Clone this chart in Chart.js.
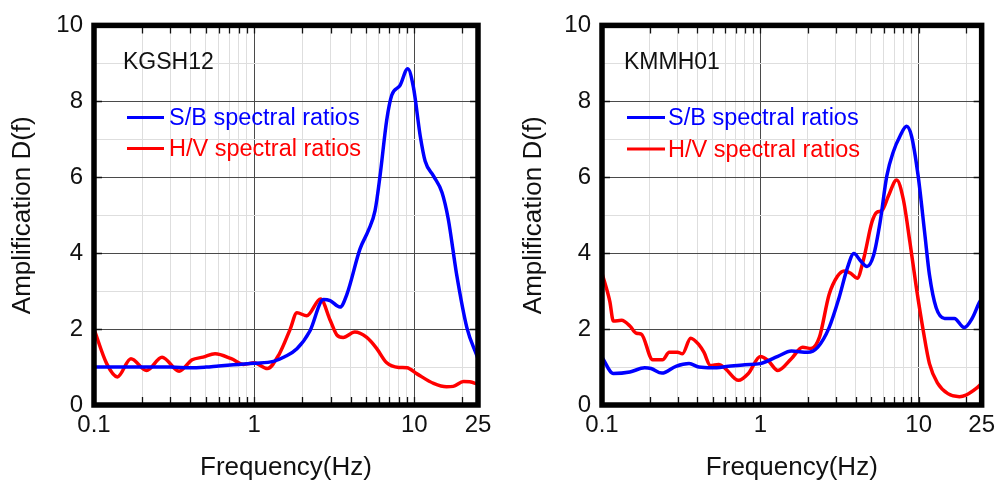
<!DOCTYPE html>
<html>
<head>
<meta charset="utf-8">
<script src="https://cdn.jsdelivr.net/npm/chart.js@4.4.1/dist/chart.umd.min.js"></script>
<style>
  html, body { margin: 0; padding: 0; background: #ffffff; }
  #wrap { position: relative; width: 1001px; height: 482px; overflow: hidden; background: #fff; }
  #wrap canvas { position: absolute; top: 0; }
</style>
</head>
<body>
<div id="wrap">
  <canvas id="kgsh" width="500" height="482" style="left:0px;width:500px;height:482px"></canvas>
  <canvas id="kmmh" width="501" height="482" style="left:500px;width:501px;height:482px"></canvas>
</div>
<script>
// ---- Axis ticks ----
const xGridValues = [0.1, 0.2, 0.3, 0.4, 0.5, 0.6, 0.7, 0.8, 0.9,
                     1, 2, 3, 4, 5, 6, 7, 8, 9, 10, 20, 25];
const xMajorValues = [1, 10];
const xTickLabels = [0.1, 1, 10, 25];
const yTickLabels = [0, 2, 4, 6, 8, 10];

const seriesNames = ['S/B spectral ratios', 'H/V spectral ratios'];

// ---- KGSH12 ----
const kgshSbFreq = [0.1, 0.15, 0.2, 0.3, 0.4, 0.5, 0.6, 0.8, 1.0, 1.32, 1.55, 1.85, 2.23, 2.71, 2.98,
                    3.44, 3.79, 4.59, 5.17, 5.69, 6.11, 6.73, 7.23, 8.15, 9.1, 9.87, 10.9, 11.7,
                    13.2, 14.9, 16.3, 18.4, 21.3, 24.6, 25];
const kgshSbAmp  = [1.0, 1.0, 1.0, 1.0, 0.98, 1.0, 1.03, 1.07, 1.1, 1.15, 1.27, 1.48, 1.95, 2.78, 2.75,
                    2.58, 2.91, 4.12, 4.6, 5.12, 6.03, 7.51, 8.16, 8.42, 8.86, 8.38, 7.08, 6.42,
                    6.03, 5.6, 4.9, 3.43, 2.04, 1.3, 1.22];
const kgshHvFreq = [0.1, 0.12, 0.14, 0.17, 0.213, 0.266, 0.34, 0.41, 0.48, 0.57, 0.72, 0.86, 1.0,
                    1.21, 1.43, 1.68, 1.85, 2.13, 2.6, 2.98, 3.28, 3.6, 4.25, 5.05, 5.8, 6.7, 8.0,
                    9.0, 10.4, 13.2, 15.9, 17.5, 20.3, 22.2, 25];
const kgshHvAmp  = [2.0, 1.09, 0.74, 1.22, 0.91, 1.26, 0.89, 1.19, 1.26, 1.35, 1.22, 1.07, 1.11,
                    0.96, 1.33, 2.0, 2.43, 2.35, 2.79, 2.24, 1.85, 1.78, 1.92, 1.78, 1.5, 1.12, 0.99,
                    0.98, 0.82, 0.57, 0.48, 0.49, 0.62, 0.61, 0.55];

// ---- KMMH01 ----
const kmmhSbFreq = [0.1, 0.118, 0.15, 0.186, 0.204, 0.239, 0.293, 0.355, 0.409, 0.496, 0.63, 0.8, 1.0,
                    1.29, 1.57, 1.99, 2.3, 2.72, 3.14, 3.54, 3.9, 4.29, 4.72, 5.2, 5.71, 6.29, 6.93,
                    7.62, 8.39, 9.02, 9.93, 10.9, 11.7, 12.9, 14.6, 16.8, 19.4, 21.9, 24.1, 25];
const kmmhSbAmp  = [1.26, 0.83, 0.87, 0.98, 0.96, 0.84, 1.02, 1.09, 1.0, 0.98, 1.02, 1.06, 1.09,
                    1.28, 1.42, 1.39, 1.52, 2.04, 2.82, 3.6, 3.99, 3.8, 3.65, 3.95, 4.82, 6.03, 6.68,
                    7.08, 7.34, 7.08, 6.03, 4.56, 3.43, 2.56, 2.28, 2.28, 2.04, 2.3, 2.69, 2.8];
const kmmhHvFreq = [0.1, 0.112, 0.118, 0.133, 0.15, 0.165, 0.177, 0.209, 0.241, 0.266, 0.3, 0.322,
                    0.363, 0.409, 0.44, 0.484, 0.546, 0.601, 0.728, 0.84, 1.0, 1.12, 1.29, 1.57,
                    1.85, 2.09, 2.36, 2.72, 3.07, 3.38, 3.72, 4.09, 4.5, 5.07, 5.45, 5.86, 6.45,
                    7.26, 8.0, 8.8, 9.68, 10.7, 11.7, 13.2, 15.3, 18.1, 19.9, 23.0, 25];
const kmmhHvAmp  = [3.47, 2.73, 2.21, 2.23, 2.08, 1.89, 1.87, 1.19, 1.19, 1.39, 1.39, 1.35,
                    1.76, 1.59, 1.39, 1.04, 1.07, 0.96, 0.65, 0.83, 1.28, 1.17, 0.91, 1.22,
                    1.52, 1.49, 1.78, 2.91, 3.39, 3.53, 3.47, 3.34, 3.86, 4.82, 5.08, 5.12, 5.51,
                    5.93, 5.42, 4.3, 3.08, 1.95, 1.09, 0.57, 0.3, 0.22, 0.26, 0.43, 0.57];

const FONT = "'Liberation Sans', Arial, Helvetica, sans-serif";
const SB_COLOR = '#0000ff';
const HV_COLOR = '#ff0000';
const GRID_DARK = '#4a4a4a';
const GRID_LIGHT = '#dedede';

const toPoints = (fs, vs) => fs.map((f, i) => ({ x: f, y: vs[i] }));

function makeChart(canvasId, station, sbF, sbA, hvF, hvA, box) {
  // thick frame with inward ticks on all four sides, plus station name and key
  const framePlugin = {
    id: 'frame',
    afterDatasetsDraw(chart) {
      const { ctx, chartArea: a, scales: { x, y } } = chart;
      ctx.save();
      ctx.strokeStyle = '#111';
      ctx.lineWidth = 1.3;
      ctx.beginPath();
      x.ticks.forEach(t => {
        const px = Math.round(x.getPixelForValue(t.value)) + 0.5;
        ctx.moveTo(px, a.bottom); ctx.lineTo(px, a.bottom - 8);
        ctx.moveTo(px, a.top); ctx.lineTo(px, a.top + 8);
      });
      y.ticks.forEach(t => {
        if (!yTickLabels.includes(t.value)) return;
        const py = Math.round(y.getPixelForValue(t.value)) + 0.5;
        ctx.moveTo(a.left, py); ctx.lineTo(a.left + 8, py);
        ctx.moveTo(a.right, py); ctx.lineTo(a.right - 8, py);
      });
      ctx.stroke();
      ctx.lineWidth = 5.5;
      ctx.strokeStyle = '#000';
      ctx.strokeRect(a.left, a.top, a.right - a.left, a.bottom - a.top);
      ctx.restore();
    },
    afterDraw(chart) {
      const { ctx } = chart;
      ctx.save();
      ctx.textBaseline = 'alphabetic';
      ctx.textAlign = 'left';
      ctx.fillStyle = '#111';
      ctx.font = '23px ' + FONT;
      ctx.fillText(station, box.noteX, box.noteBase);
      chart.data.datasets.forEach((ds, i) => {
        const yLine = box.legendLineY + i * box.legendGap;
        ctx.strokeStyle = ds.borderColor;
        ctx.lineWidth = 3;
        ctx.beginPath();
        ctx.moveTo(box.legendX0, yLine);
        ctx.lineTo(box.legendX1, yLine);
        ctx.stroke();
        ctx.fillStyle = ds.borderColor;
        ctx.font = '23.5px ' + FONT;
        ctx.fillText(ds.label, box.legendTextX, yLine + 7.5);
      });
      ctx.restore();
    }
  };

  return new Chart(document.getElementById(canvasId), {
    type: 'line',
    data: {
      datasets: [
        { label: seriesNames[0], data: toPoints(sbF, sbA), borderColor: SB_COLOR,
          borderWidth: 3.5, pointRadius: 0, cubicInterpolationMode: 'monotone', fill: false },
        { label: seriesNames[1], data: toPoints(hvF, hvA), borderColor: HV_COLOR,
          borderWidth: 3.5, pointRadius: 0, cubicInterpolationMode: 'monotone', fill: false }
      ]
    },
    options: {
      responsive: false,
      animation: false,
      devicePixelRatio: 1,
      layout: { padding: { top: 21, right: box.padRight, left: 0, bottom: 0 } },
      plugins: { legend: { display: false }, tooltip: { enabled: false } },
      scales: {
        x: {
          type: 'logarithmic',
          min: 0.1,
          max: 25,
          afterBuildTicks: s => { s.ticks = xGridValues.map(v => ({ value: v })); },
          afterFit: s => { s.height = 77; },
          border: { display: false },
          grid: {
            drawTicks: false,
            lineWidth: 1,
            color: c => (c.tick && xMajorValues.includes(c.tick.value)) ? GRID_DARK : GRID_LIGHT
          },
          ticks: {
            autoSkip: false,
            maxRotation: 0,
            padding: 6,
            color: '#111',
            font: { family: FONT, size: 24 },
            callback: v => xTickLabels.includes(v) ? String(v) : ''
          },
          title: {
            display: true,
            text: 'Frequency(Hz)',
            color: '#111',
            font: { family: FONT, size: 26, lineHeight: 1 },
            padding: { top: 0, bottom: 1.5 }
          }
        },
        y: {
          type: 'linear',
          min: 0,
          max: 10,
          afterFit: s => { s.width = box.plotLeft; },
          border: { display: false },
          grid: {
            drawTicks: false,
            lineWidth: 1,
            color: c => (c.tick && yTickLabels.includes(c.tick.value)) ? GRID_DARK : GRID_LIGHT
          },
          ticks: {
            stepSize: 1,
            padding: 11,
            color: '#111',
            font: { family: FONT, size: 24 },
            callback: v => yTickLabels.includes(v) ? String(v) : ''
          },
          title: {
            display: true,
            text: 'Amplification D(f)',
            color: '#111',
            font: { family: FONT, size: 26, lineHeight: 1 },
            padding: { top: box.yTitlePad, bottom: 0 }
          }
        }
      }
    },
    plugins: [framePlugin]
  });
}

makeChart('kgsh', 'KGSH12', kgshSbFreq, kgshSbAmp, kgshHvFreq, kgshHvAmp, {
  plotLeft: 94, padRight: 22, yTitlePad: 10,
  noteX: 123, noteBase: 68.5,
  legendX0: 127, legendX1: 164, legendTextX: 169, legendLineY: 117.5, legendGap: 31
});
makeChart('kmmh', 'KMMH01', kmmhSbFreq, kmmhSbAmp, kmmhHvFreq, kmmhHvAmp, {
  plotLeft: 102, padRight: 15, yTitlePad: 21,
  noteX: 124, noteBase: 68.5,
  legendX0: 127, legendX1: 165, legendTextX: 168, legendLineY: 117.5, legendGap: 31.5
});
</script>
</body>
</html>
